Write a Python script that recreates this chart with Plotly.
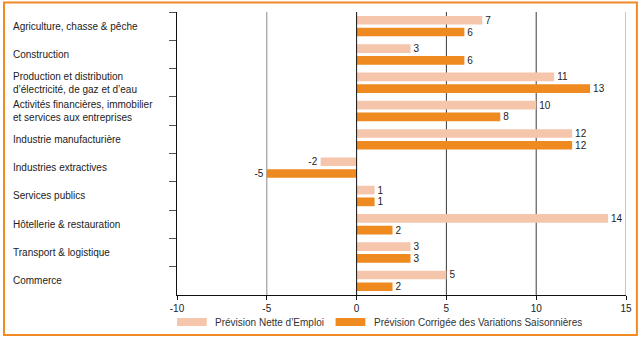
import plotly.graph_objects as go

categories = [
    "Agriculture, chasse & pêche",
    "Construction",
    "Production et distribution<br>d’électricité, de gaz et d’eau",
    "Activités financières, immobilier<br>et services aux entreprises",
    "Industrie manufacturière",
    "Industries extractives",
    "Services publics",
    "Hôtellerie & restauration",
    "Transport & logistique",
    "Commerce",
]
nette = [7, 3, 11, 10, 12, -2, 1, 14, 3, 5]
corrigee = [6, 6, 13, 8, 12, -5, 1, 2, 3, 2]
series_names = ["Prévision Nette d’Emploi", "Prévision Corrigée des Variations Saisonnières"]
x_ticks = [-10, -5, 0, 5, 10, 15]

LIGHT = "#F5C5AC"
DARK = "#EE8A20"
BORDER = "#F08A24"
FONT = "Liberation Sans, Arial, sans-serif"

W, H = 644, 338
L, R, T, B = 177, 14, 12, 43
PW, PH = W - L - R, H - T - B


def px(x):
    return (x - L) / PW


def py(y):
    return (H - B - y) / PH


fig = go.Figure()
for vals, color, name in [(nette, LIGHT, series_names[0]), (corrigee, DARK, series_names[1])]:
    fig.add_trace(go.Bar(
        y=categories, x=vals, orientation="h", name=name,
        marker=dict(color=color, line=dict(width=0)),
        text=[str(v) for v in vals], textposition="outside",
        textfont=dict(family=FONT, size=10, color="#222"),
        constraintext="none", cliponaxis=False, showlegend=False,
    ))

shapes = []
# vertical reference lines
for xv, col in [(-5, "#8a8a8a"), (5, "#3a3a3a"), (10, "#3a3a3a"), (15, "#8a8a8a")]:
    shapes.append(dict(type="line", xref="x", yref="paper", x0=xv, x1=xv, y0=0, y1=1,
                       line=dict(color=col, width=1), layer="below"))
shapes.append(dict(type="line", xref="x", yref="paper", x0=0, x1=0, y0=0, y1=1,
                   line=dict(color="#111", width=1), layer="above"))

# legend swatches
shapes.append(dict(type="rect", xref="paper", yref="paper", x0=px(177), x1=px(207),
                   y0=py(326), y1=py(318), fillcolor=LIGHT, line=dict(width=0)))
shapes.append(dict(type="rect", xref="paper", yref="paper", x0=px(337), x1=px(367),
                   y0=py(326), y1=py(318), fillcolor=DARK, line=dict(width=0)))

# outer frame
shapes.append(dict(type="rect", xref="paper", yref="paper", x0=px(2.5), x1=px(641),
                   y0=py(335), y1=py(2.5), line=dict(color=BORDER, width=2)))

annotations = []
for c in categories:
    annotations.append(dict(text=c, xref="paper", yref="y", x=px(10), y=c,
                            xanchor="left", yanchor="middle", align="left", showarrow=False,
                            font=dict(family=FONT, size=10, color="#222")))
annotations.append(dict(text=series_names[0], xref="paper", yref="paper", x=px(213), y=py(322),
                        xanchor="left", yanchor="middle", showarrow=False,
                        font=dict(family=FONT, size=10, color="#333")))
annotations.append(dict(text=series_names[1], xref="paper", yref="paper", x=px(374), y=py(322),
                        xanchor="left", yanchor="middle", showarrow=False,
                        font=dict(family=FONT, size=10, color="#333")))

fig.update_layout(
    width=W, height=H,
    margin=dict(l=L, r=R, t=T, b=B),
    paper_bgcolor="white", plot_bgcolor="white",
    barmode="group", bargap=0.17, bargroupgap=0.26,
    font=dict(family=FONT, size=10, color="#222"),
    shapes=shapes, annotations=annotations,
    xaxis=dict(range=[-10, 15], tickvals=x_ticks, ticktext=[str(v) for v in x_ticks],
               showgrid=False, zeroline=False, showline=True, linecolor="#111", linewidth=1,
               ticks="outside", ticklen=4, tickcolor="#111",
               tickfont=dict(family=FONT, size=10, color="#222")),
    yaxis=dict(autorange="reversed", showticklabels=False, showgrid=False, zeroline=False,
               showline=True, linecolor="#111", linewidth=1,
               ticks="outside", tickson="boundaries", ticklen=7, tickcolor="#555"),
)

fig.write_html("out.html")
